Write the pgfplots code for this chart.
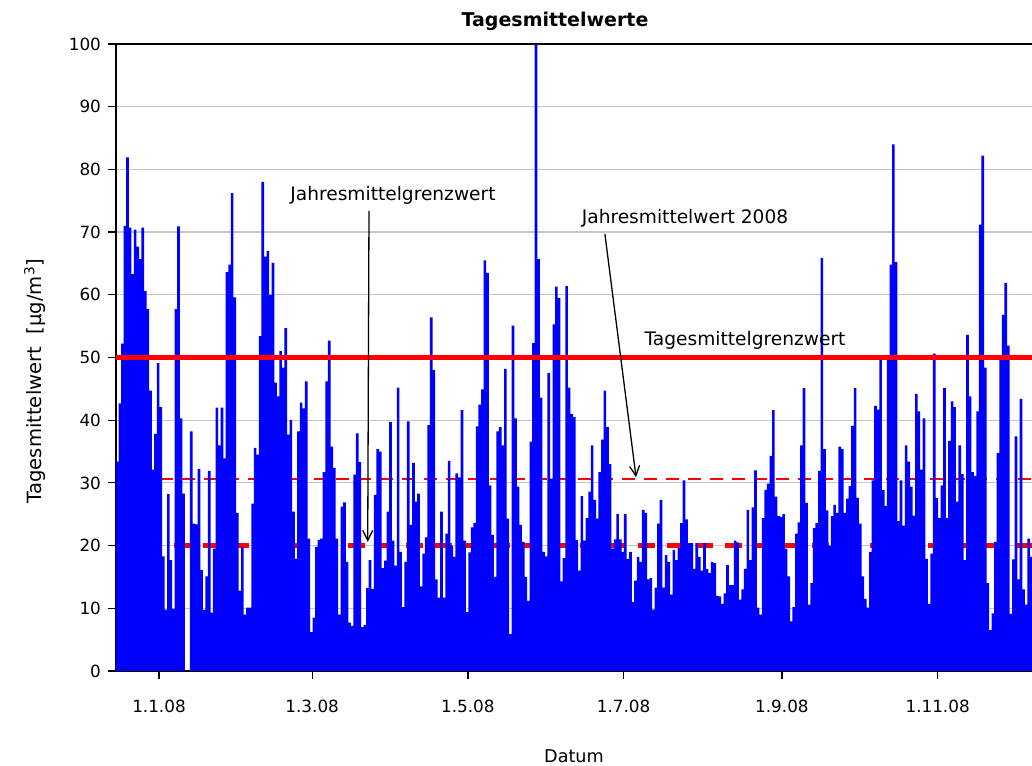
\documentclass[border=0pt]{standalone}
\usepackage{fontspec}
\setmainfont{DejaVu Sans}
\usepackage{pgfplots}
\usepackage{pgfplotstable}
\pgfplotsset{compat=1.18}
\usetikzlibrary{arrows.meta}
\pgfplotstableread{
v
33.4
42.7
52.2
71.0
81.9
70.7
63.3
70.4
67.7
65.7
70.7
60.6
57.7
44.7
32.1
37.8
49.1
42.1
18.3
9.8
28.2
17.7
9.9
57.7
70.9
40.3
28.3
0
0
38.2
23.5
23.4
32.2
16.1
9.75
15.1
31.9
9.3
19.5
42
36
42
33.9
63.6
64.8
76.2
59.6
25.2
12.8
19.8
9
10.1
10.1
26.7
35.6
34.5
53.4
78
66.1
67
60
65.1
46
43.8
51
48.4
54.7
37.7
40
25.4
17.9
38.2
42.8
41.9
46.2
21.1
6.2
8.5
19.8
20.9
21.1
31.7
46.2
52.7
35.8
32.4
21.1
9
26.2
26.9
17.4
7.7
7.2
31.3
37.9
33.3
7
7.3
13.2
17.7
13.1
28.1
35.4
35
16.4
17.6
25.4
39.7
20.8
16.8
45.2
19
10.2
17.4
39.8
23.3
33.2
27
28.3
13.5
18.7
21.3
39.2
56.4
48
14.6
11.7
25.4
11.7
21.9
33.5
20
18.2
31.5
30.9
41.6
20.8
9.4
18.9
22.9
23.6
39
42.5
44.9
65.5
63.5
29.6
21.7
15
38.2
38.9
36
48.2
24.3
5.9
55.1
40.3
29.4
23.3
20.6
15
11.2
36.6
52.3
100
65.7
43.6
19
18.3
47.5
30.7
55.3
61.3
59.5
14.3
18
61.4
45.2
41
40.5
20.9
16
27.9
20.8
24.4
28.6
36
27.3
24.3
31.7
36.9
44.7
38.9
33
19.5
21
25
21
19
25
17.9
19
11
14.4
18.2
17.4
25.7
25.2
14.6
14.8
9.8
13.3
23.5
27.3
13.3
18.5
17.4
12.2
19.3
17.7
19.6
23.6
30.4
24.2
20.4
20.4
16.3
20.4
18.2
16
20.4
16.3
15.6
17.4
17.2
12
11.9
10.7
12.4
16.9
13.7
13.7
20.8
20.5
11.4
13
16.3
25.7
17.7
26.1
32
10.1
9
24.4
28.9
29.9
34.3
41.6
27.8
24.7
24.6
25
19.5
15.1
7.9
10.2
21.9
23.7
36
45.1
26.8
10.6
14
22.8
23.6
31.9
65.9
35.4
25.6
20
24.7
26.5
25.2
35.8
35.4
25.2
27.5
29.5
39.1
45.1
27.6
23.5
15.1
11.5
10.1
19
30.4
42.3
41.7
49.6
28.9
26.3
49.6
64.8
84
65.2
23.9
30.4
23.2
36
33.4
29.4
24.8
44.2
41.4
32.1
40.3
17.9
10.7
18.7
50.6
27.6
24.4
29.6
45.1
24.4
36.7
43
42.1
27
36
31.4
17.7
53.6
43.8
31.7
31.1
41.4
71.2
82.2
48.4
14
6.5
9.2
20.6
34.8
50.3
56.8
61.9
51.9
9.1
17.8
37.4
14.6
43.4
13
10.6
21.1
18.2
42.3
}\daily
\begin{document}
\begin{tikzpicture}
\path[use as bounding box] (0,0) rectangle (516pt,382.5pt);
\begin{axis}[
  at={(58pt,47pt)}, anchor=south west,
  scale only axis, width=458pt, height=313.5pt,
  xmin=0, xmax=358.8, ymin=0, ymax=100,
  axis x line*=box, axis y line*=left,
  axis line style={black, line width=0.7pt},
  xtick pos=left, ytick pos=left,
  tick align=outside, major tick length=4pt,
  tick style={black, line width=0.6pt},
  ytick={0,10,...,100},
  xtick={16.84,76.84,137.84,198.84,260.84,321.84},
  xticklabels={1.1.08,1.3.08,1.5.08,1.7.08,1.9.08,1.11.08},
  ymajorgrids, grid style={gray!45, line width=0.6pt},
  ticklabel style={font=\fontsize{8.4}{10}\selectfont},
  xticklabel style={yshift=-7pt},
  /pgf/number format/assume math mode=true,
  clip=true,
]
% Jahresmittelgrenzwert (behind bars)
\addplot[red, line width=2.6pt, dash pattern=on 8.5pt off 6pt, forget plot]
  coordinates {(0,20) (358.8,20)};
% Jahresmittelwert 2008 (behind bars)
\addplot[color={rgb,255:red,255;green,0;blue,0}, line width=0.75pt, dash pattern=on 6.5pt off 4.5pt, forget plot]
  coordinates {(0,30.6) (358.8,30.6)};
% daily means
\addplot[ybar, bar width=1.04, fill=blue, draw=none]
  table[x expr=\coordindex+0.5, y=v] {\daily};
% Tagesmittelgrenzwert (on top)
\addplot[red, line width=2.6pt, forget plot]
  coordinates {(0,50) (358.8,50)};
% annotations
\node[font=\fontsize{9.3}{11}\selectfont] at (axis cs:108.5,75.9) {Jahresmittelgrenzwert};
\draw[black, line width=0.65pt, -{Straight Barb[length=5pt,width=5pt]}]
  (axis cs:99.1,73.4) -- (axis cs:98.6,20.6);
\node[font=\fontsize{9.3}{11}\selectfont] at (axis cs:222.9,72.2) {Jahresmittelwert 2008};
\draw[black, line width=0.65pt, -{Straight Barb[length=5pt,width=5pt]}]
  (axis cs:191.5,69.7) -- (axis cs:203.7,30.9);
\node[font=\fontsize{9.3}{11}\selectfont] at (axis cs:246.4,52.8) {Tagesmittelgrenzwert};
\end{axis}
\node[font=\bfseries\fontsize{9.5}{11}\selectfont] at (277.5pt,372pt) {Tagesmittelwerte};
\node[font=\fontsize{8.8}{10}\selectfont] at (287pt,4.5pt) {Datum};
\node[font=\fontsize{9.8}{11}\selectfont, rotate=90] at (17.5pt,192pt) {Tagesmittelwert\ \ [µg/m\textsuperscript{3}]};
\end{tikzpicture}
\end{document}
